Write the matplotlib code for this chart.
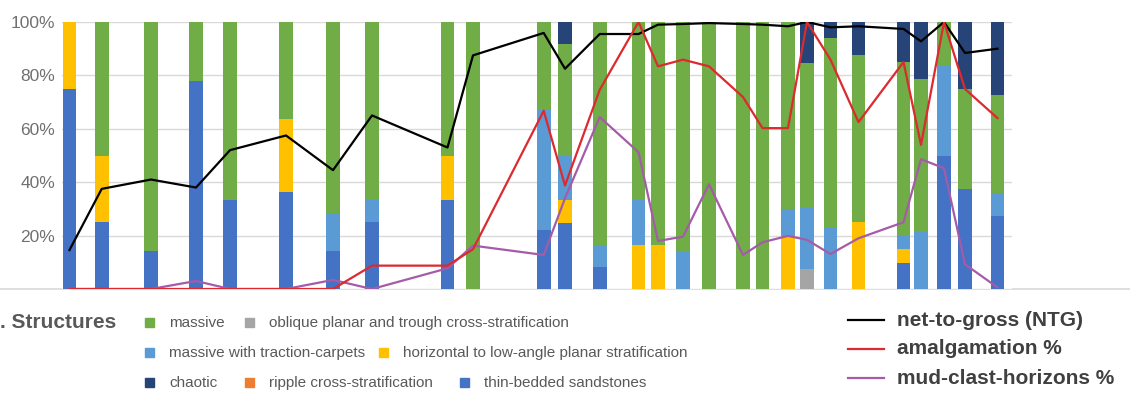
import numpy as np
import matplotlib
matplotlib.use("Agg")
import matplotlib.pyplot as plt
from matplotlib.patches import Rectangle
from matplotlib.lines import Line2D

plt.rcParams['font.family'] = ['Liberation Sans', 'DejaVu Sans']

# stratigraphic position of each logged section (arbitrary units along the transect)
position = [7.5, 39.7, 89, 134, 168, 224, 271, 310, 385.5, 411, 481.7, 503, 537.7, 576.5,
            596, 621, 647, 681, 700.5, 726, 745, 768.5, 796.5, 841.5, 859, 882, 903, 935.5]

# structure proportions (%), stacked bottom -> top
thin_bedded = [75, 25, 14.4, 77.8, 33.4, 36.2, 14.4, 25, 33.4, 0, 22.1, 24.9, 8.4, 0,
               0, 0, 0, 0, 0, 0, 0, 0, 0, 9.9, 0, 50, 37.5, 27.4]
oblique = [0, 0, 0, 0, 0, 0, 0, 0, 0, 0, 0, 0, 0, 0,
           0, 0, 0, 0, 0, 0, 7.4, 0, 0, 0, 0, 0, 0, 0]
horizontal = [25, 25, 0, 0, 0, 27.4, 0, 0, 16.6, 0, 0, 8.5, 0, 16.5,
              16.5, 0, 0, 0, 0, 19.9, 0, 0, 25, 5, 0, 0, 0, 0]
traction = [0, 0, 0, 0, 0, 0, 14, 8.4, 0, 0, 44.8, 16.6, 8.1, 16.9,
            0, 14.4, 0, 0, 0, 10, 23.1, 23.4, 0, 5, 21.25, 33.4, 0, 8.7]
massive = [0, 50, 85.6, 22.2, 66.6, 36.4, 71.6, 66.6, 50, 100, 33.1, 41.75, 83.5, 66.6,
           83.5, 85.6, 100, 100, 100, 70.1, 54.1, 70.6, 62.5, 65.1, 57.35, 16.6, 37.4, 36.65]
chaotic = [0, 0, 0, 0, 0, 0, 0, 0, 0, 0, 0, 8.25, 0, 0,
           0, 0, 0, 0, 0, 0, 15.4, 6, 12.5, 15, 21.4, 0, 25.1, 27.25]
ripple = [0] * 28

ntg = [14.6, 37.5, 41, 38, 52, 57.5, 44.5, 65, 53, 87.5, 95.9, 82.5, 95.5, 95.5,
       99, 99.25, 99.6, 99.25, 99, 98.4, 100, 98, 98.4, 97.4, 92.75, 100, 88.4, 90]
amalgamation = [0, 0, 0, 0, 0, 0, 0, 8.75, 8.75, 14.9, 66.75, 38.75, 74.6, 100,
                83.4, 85.9, 83.4, 71.9, 60.25, 60.25, 100, 85.9, 62.5, 85, 54, 100, 74.9, 64]
mud_clast = [0, 0, 0, 3, 0, 0, 3.4, 0, 7.75, 16.25, 12.75, 34, 64.4, 51.25,
             18, 19.6, 39.25, 12.75, 17.5, 19.9, 18.4, 13.1, 19, 25, 48.6, 45.25, 9.25, 0.6]

series = [
    ("thin-bedded sandstones", thin_bedded, "#4472C4"),
    ("oblique planar and trough cross-stratification", oblique, "#A5A5A5"),
    ("horizontal to low-angle planar stratification", horizontal, "#FFC000"),
    ("massive with traction-carpets", traction, "#5B9BD5"),
    ("massive", massive, "#70AD47"),
    ("chaotic", chaotic, "#264478"),
    ("ripple cross-stratification", ripple, "#ED7D31"),
]
colors = {name: c for name, _, c in series}

W, H = 1130, 397
fig = plt.figure(figsize=(W / 100, H / 100), dpi=100)
ax = fig.add_axes([62 / W, 108 / H, 950 / W, 267 / H])

x = np.array(position)
bottom = np.zeros(len(x))
for name, vals, c in series:
    v = np.array(vals, dtype=float)
    ax.bar(x, v, width=13.7, bottom=bottom, color=c, linewidth=0, zorder=2)
    bottom += v

ax.plot(x, ntg, color="black", lw=1.6, zorder=4)
ax.plot(x, amalgamation, color="#DC2A2E", lw=1.6, zorder=4)
ax.plot(x, mud_clast, color="#A55CA8", lw=1.6, zorder=3)

ax.set_xlim(0, 950)
ax.set_ylim(0, 100)
ax.set_yticks([0, 20, 40, 60, 80, 100])
ax.set_yticklabels(["", "20%", "40%", "60%", "80%", "100%"], fontsize=12.5, color="#707070")
ax.tick_params(axis="y", length=0, pad=5)
ax.set_xticks([])
ax.grid(axis="y", color="#D9D9D9", lw=1, zorder=0)
for s in ax.spines.values():
    s.set_visible(False)

# baseline running across the whole figure
fig.add_artist(Line2D([0, 1], [108 / H, 108 / H], color="#D9D9D9", lw=1.2,
                      transform=fig.transFigure, zorder=0))


def px(xp, yp):
    return xp / W, 1 - yp / H


# structure legend
fig.text(*px(0, 322), ". Structures", fontsize=15, fontweight="bold", color="#595959",
         ha="left", va="center")
legend_items = [
    (145, 322, "massive"),
    (245, 322, "oblique planar and trough cross-stratification"),
    (145, 352, "massive with traction-carpets"),
    (379, 352, "horizontal to low-angle planar stratification"),
    (145, 382, "chaotic"),
    (245, 382, "ripple cross-stratification"),
    (460, 382, "thin-bedded sandstones"),
]
for xp, yp, name in legend_items:
    fig.add_artist(Rectangle(px(xp, yp + 4.5), 9 / W, 9 / H, color=colors[name],
                             transform=fig.transFigure))
    fig.text(*px(xp + 24, yp + 1), name, fontsize=11, color="#595959", ha="left", va="center")

# line legend
line_items = [
    (320, "net-to-gross (NTG)", "black"),
    (349, "amalgamation %", "#DC2A2E"),
    (378, "mud-clast-horizons %", "#A55CA8"),
]
for yp, label, c in line_items:
    fig.add_artist(Line2D([848 / W, 884 / W], [1 - yp / H] * 2, color=c, lw=1.6,
                          transform=fig.transFigure))
    fig.text(*px(897, yp), label, fontsize=15, fontweight="bold", color="#404040",
             ha="left", va="center")

fig.savefig("out.png", dpi=100)
